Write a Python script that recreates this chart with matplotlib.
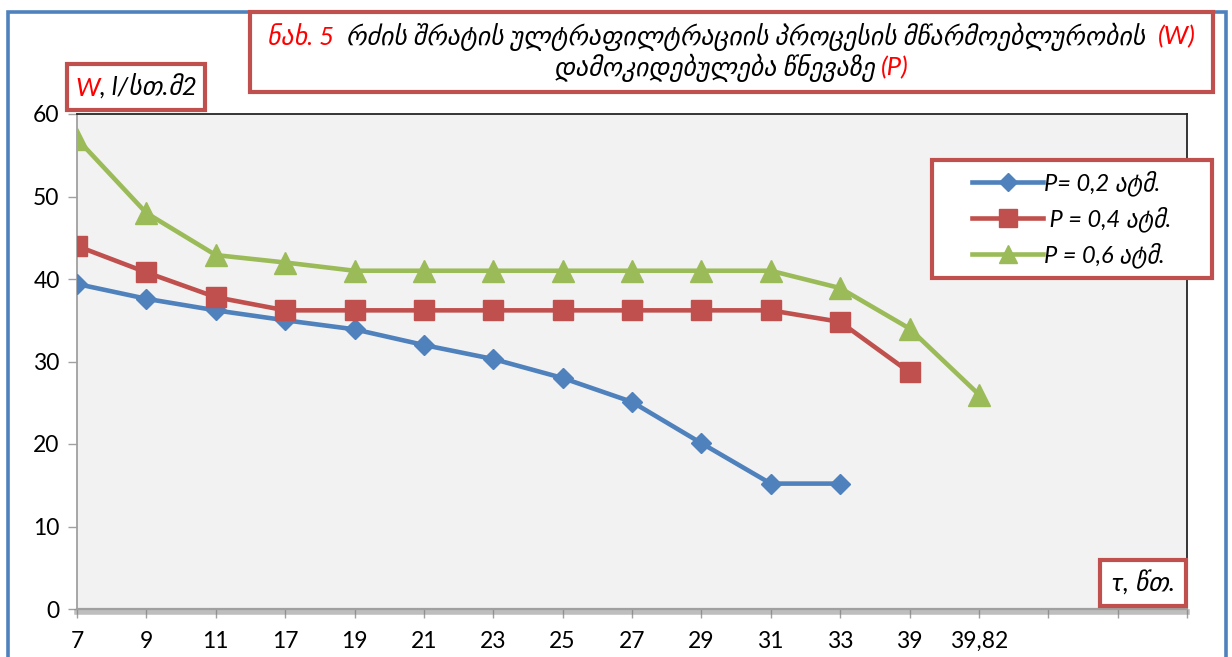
import matplotlib
matplotlib.use('Agg')
import matplotlib.pyplot as plt
import matplotlib.patheffects as pe
from matplotlib.patches import Rectangle
from matplotlib.offsetbox import TextArea, HPacker, VPacker, AnnotationBbox

# x categories (filtration time, min) and productivity W for three pressures
categories = ['7', '9', '11', '17', '19', '21', '23', '25', '27', '29', '31', '33', '39', '39,82']
w_p02 = [39.4, 37.6, 36.2, 35.0, 33.9, 32.0, 30.3, 28.0, 25.1, 20.1, 15.2, 15.2]
w_p04 = [44.0, 40.8, 37.8, 36.2, 36.2, 36.2, 36.2, 36.2, 36.2, 36.2, 36.2, 34.8, 28.7]
w_p06 = [57.0, 48.0, 42.9, 42.0, 41.0, 41.0, 41.0, 41.0, 41.0, 41.0, 41.0, 38.9, 34.0, 26.0]
series_labels = ['P= 0,2 ატმ.', ' P = 0,4 ატმ.', 'P = 0,6 ატმ.']
n_slots = 17  # the category axis keeps three empty slots after the last label

BLUE = '#4F81BD'
RED = '#C0504D'
GREEN = '#9BBB59'
FAMILY = ['Lato', 'DejaVu Sans']

W, H = 1232, 657
fig = plt.figure(figsize=(W / 100, H / 100), dpi=100)


def px_box(x0, y0, x1, y1):
    # pixel box (top-left origin) -> figure fraction rectangle
    return (x0 / W, 1 - y1 / H, (x1 - x0) / W, (y1 - y0) / H)


ax = fig.add_axes(px_box(77, 114, 1187, 609))
ax.set_facecolor('#f2f2f2')

ax.plot(range(len(w_p02)), w_p02, color=BLUE, lw=3.3, marker='D', ms=10.5,
        label=series_labels[0], zorder=3)
ax.plot(range(len(w_p04)), w_p04, color=RED, lw=3.3, marker='s', ms=15,
        label=series_labels[1], zorder=3)
ax.plot(range(len(w_p06)), w_p06, color=GREEN, lw=3.3, marker='^', ms=16,
        label=series_labels[2], zorder=3)

ax.set_xlim(0, n_slots - 1)
ax.set_ylim(0, 60)
ax.set_xticks(range(n_slots))
ax.set_xticklabels(categories + [''] * (n_slots - len(categories)))
ax.set_yticks(range(0, 61, 10))
for lab in ax.get_xticklabels() + ax.get_yticklabels():
    lab.set_family(FAMILY)
    lab.set_fontsize(16.5)
ax.tick_params(axis='both', direction='out', length=6.5, width=1, color='#a0a0a0', pad=9)
ax.tick_params(axis='y', pad=6)

for side in ['top', 'right']:
    ax.spines[side].set_color('#262626')
    ax.spines[side].set_linewidth(1.3)
ax.spines['left'].set_color('#a0a0a0')
ax.spines['left'].set_linewidth(1.3)
ax.spines['bottom'].set_color('#a0a0a0')
ax.spines['bottom'].set_linewidth(1.6)
ax.spines['bottom'].set_path_effects([
    pe.SimpleLineShadow(offset=(0, -2.5), shadow_color='#7f7f7f', alpha=0.5, linewidth=4),
    pe.Normal()])

# outer chart frame
fig.add_artist(Rectangle((8 / W, -0.05), (1226 - 8) / W, 1.05 - 12 / H,
                         transform=fig.transFigure, fill=False,
                         edgecolor=BLUE, lw=2.6, zorder=0))


def framed_text(x0, y0, x1, y1, lines, size, sep=4):
    fig.add_artist(Rectangle(px_box(x0, y0, x1, y1)[:2], (x1 - x0) / W, (y1 - y0) / H,
                             transform=fig.transFigure, facecolor='white',
                             edgecolor=RED, lw=3, zorder=5))
    rows = []
    for parts in lines:
        areas = [TextArea(txt, textprops=dict(color=col, fontsize=size, style='italic',
                                              family=FAMILY))
                 for txt, col in parts]
        rows.append(HPacker(children=areas, pad=0, sep=0, align='baseline'))
    box = VPacker(children=rows, pad=0, sep=sep, align='center')
    ab = AnnotationBbox(box, ((x0 + x1) / 2 / W, 1 - (y0 + y1) / 2 / H),
                        xycoords='figure fraction', frameon=False, zorder=6)
    fig.add_artist(ab)


framed_text(250, 12, 1213, 92, [
    [('ნახ. 5', 'red'),
     ('  რძის შრატის ულტრაფილტრაციის პროცესის მწარმოებლურობის  ', 'black'),
     ('(W)', 'red')],
    [('დამოკიდებულება წნევაზე ', 'black'), ('(P)', 'red')],
], 18.5, sep=2)
framed_text(67, 64, 205, 110, [[('W', 'red'), (', l/სთ.მ2', 'black')]], 18.5)
framed_text(1100, 560, 1186, 606, [[('τ, წთ.', 'black')]], 18.5)

# legend box sits partly outside the plot area
fig.add_artist(Rectangle(px_box(932, 160, 1212, 278)[:2], 280 / W, 118 / H,
                         transform=fig.transFigure, facecolor='white',
                         edgecolor=RED, lw=3, zorder=5))
leg = fig.legend(loc='center', bbox_to_anchor=((932 + 1212) / 2 / W, 1 - 219 / H),
                 frameon=False, handlelength=3.0, handletextpad=0.05,
                 labelspacing=0.45, markerscale=0.85,
                 prop=dict(family=FAMILY, style='italic', size=17))
leg.set_zorder(6)

fig.savefig('out.png', dpi=100)
